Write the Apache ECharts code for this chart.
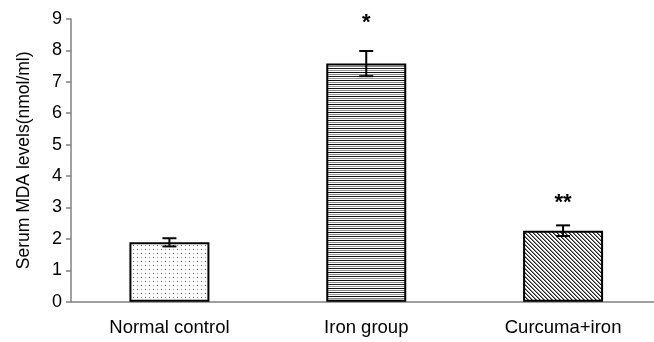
<!DOCTYPE html>
<html><head><meta charset="utf-8">
<script src="https://cdn.jsdelivr.net/npm/echarts@6/dist/echarts.min.js"></script>
<style>html,body{margin:0;padding:0;background:#fff}#c{width:654px;height:342px}</style>
</head><body><div id="c"></div>
<script>
const categories = ['Normal control', 'Iron group', 'Curcuma+iron'];
const meanValues = [1.89, 7.58, 2.26];
const errorValues = [0.13, 0.40, 0.17];
const significance = ['', '*', '**'];
const starLevels = [null, 8.95, 3.2];
const yTicks = [0, 1, 2, 3, 4, 5, 6, 7, 8, 9];

function tile(w, h, draw) {
  const c = document.createElement('canvas');
  c.width = w; c.height = h;
  const g = c.getContext('2d');
  g.fillStyle = '#fff'; g.fillRect(0, 0, w, h);
  draw(g);
  return c;
}
const dots = tile(8, 8, g => {
  g.fillStyle = '#555';
  g.fillRect(1, 1, 1, 1); g.fillRect(5, 5, 1, 1);
  g.fillStyle = '#999';
  g.fillRect(5, 1, 1, 1); g.fillRect(1, 5, 1, 1);
});
const hlines = tile(4, 8, g => {
  g.fillStyle = '#111'; g.fillRect(0, 0, 4, 1);
  g.fillStyle = '#888'; g.fillRect(0, 2, 4, 1);
  g.fillStyle = '#222'; g.fillRect(0, 4, 4, 1);
  g.fillStyle = '#999'; g.fillRect(0, 6, 4, 1);
});
const diag = tile(4, 4, g => {
  g.fillStyle = '#222';
  for (let i = 0; i < 4; i++) g.fillRect(i, i, 1, 1);
  g.fillStyle = '#888';
  for (let i = 0; i < 4; i++) g.fillRect((i + 1) % 4, i, 1, 1);
});
const patterns = [dots, hlines, diag];

const chart = echarts.init(document.getElementById('c'), null, {renderer: 'canvas'});
chart.setOption({
  animation: false,
  grid: {left: 71, width: 590.5, top: 19, bottom: 40.3, outerBoundsMode: 'none', containLabel: false},
  xAxis: {
    type: 'category', data: categories,
    axisLine: {lineStyle: {color: '#808080', width: 1.5}},
    axisTick: {length: 5, lineStyle: {color: '#808080', width: 1.5}},
    axisLabel: {color: '#000', fontFamily: 'Liberation Sans, Arial', fontSize: 18.5, margin: 17}
  },
  yAxis: {
    type: 'value', min: yTicks[0], max: yTicks[yTicks.length - 1], interval: 1,
    name: 'Serum MDA levels(nmol/ml)', nameLocation: 'middle', nameGap: 38,
    nameTextStyle: {color: '#000', fontFamily: 'Liberation Sans, Arial', fontSize: 17.5},
    axisLine: {show: true, lineStyle: {color: '#808080', width: 1.5}},
    axisTick: {show: true, length: 5, lineStyle: {color: '#808080', width: 1.5}},
    axisLabel: {color: '#000', fontFamily: 'Liberation Sans, Arial', fontSize: 18, margin: 9},
    splitLine: {show: false}
  },
  series: [
    {
      type: 'bar', barWidth: 80,
      data: meanValues.map((v, i) => ({
        value: v,
        itemStyle: {color: {image: patterns[i], repeat: 'repeat'}, borderColor: '#000', borderWidth: 2}
      }))
    },
    {
      type: 'custom', z: 5,
      data: meanValues.map((v, i) => [i, v, errorValues[i]]),
      renderItem: (params, api) => {
        const i = api.value(0), m = api.value(1), e = api.value(2);
        const top = api.coord([i, m + e]);
        const bot = api.coord([i, m - e]);
        const hw = 7;
        const st = {stroke: '#000', lineWidth: 2};
        return {type: 'group', children: [
          {type: 'line', shape: {x1: top[0], y1: top[1], x2: bot[0], y2: bot[1]}, style: st},
          {type: 'line', shape: {x1: top[0] - hw, y1: top[1], x2: top[0] + hw, y2: top[1]}, style: st},
          {type: 'line', shape: {x1: bot[0] - hw, y1: bot[1], x2: bot[0] + hw, y2: bot[1]}, style: st}
        ]};
      }
    },
    {
      type: 'custom', z: 6,
      data: starLevels.map((v, i) => [i, v == null ? 0 : v, significance[i]]),
      renderItem: (params, api) => {
        const txt = significance[params.dataIndex];
        if (!txt) return null;
        const p = api.coord([api.value(0), api.value(1)]);
        return {type: 'text', x: p[0], y: p[1] + 2, style: {
          text: txt, fill: '#000', font: 'bold 22px "Liberation Sans", Arial',
          align: 'center', verticalAlign: 'middle'
        }};
      }
    }
  ]
});
</script></body></html>
